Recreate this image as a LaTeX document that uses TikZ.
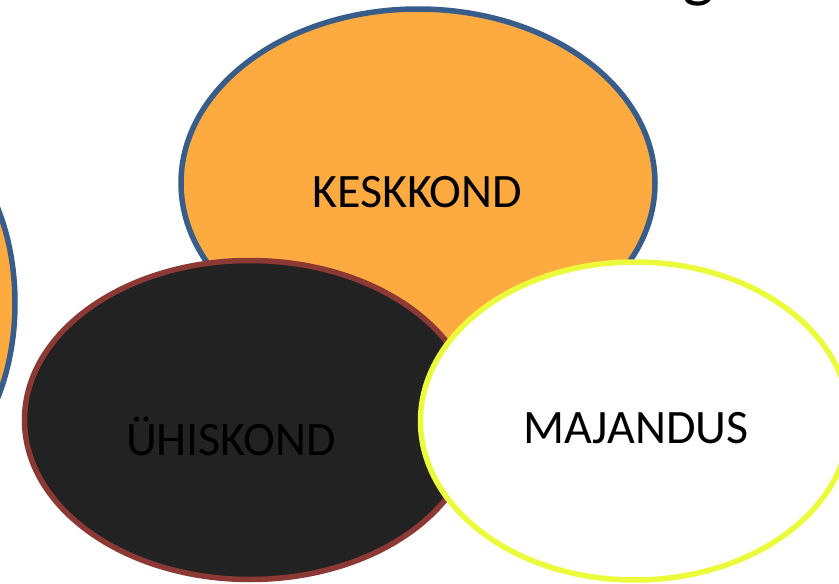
\documentclass[tikz,border=0pt]{standalone}
\usepackage{fontspec}
\setmainfont{Carlito}
\definecolor{orfill}{RGB}{253,170,64}
\definecolor{bluedge}{RGB}{56,93,138}
\definecolor{brownedge}{RGB}{140,56,52}
\definecolor{darkfill}{RGB}{34,34,34}
\definecolor{yeledge}{RGB}{236,250,60}
\tikzset{
  blob/.style={line width=5.5pt},
  lbl/.style={font=\fontsize{48}{52}\selectfont, inner sep=0pt}
}
\begin{document}
\begin{tikzpicture}[x=1pt,y=-1pt]
\useasboundingbox (0,0) rectangle (839,584);
\clip (0,0) rectangle (839,584);
\fill[white] (0,0) rectangle (839,584);
% partial title letter
\node[font=\fontsize{68}{72}\selectfont, anchor=base, inner sep=0pt] (title) at (698,-6) {g};
% left partial ellipse
\draw[blob, fill=orfill, draw=bluedge] (-92,303) ellipse [x radius=107, y radius=174];
% top ellipse
\draw[blob, fill=orfill, draw=bluedge] (418,183) ellipse [x radius=237, y radius=174];
\node[lbl] (kesk) at (417,192) {KESKKOND};
% dark ellipse
\draw[blob, fill=darkfill, draw=brownedge] (250,420) ellipse [x radius=225.5, y radius=159.5];
\node[lbl, text=black] (uhis) at (231,436) {ÜHISKOND};
% white ellipse
\draw[blob, fill=white, draw=yeledge] (635,421) ellipse [x radius=214.5, y radius=159];
\node[lbl] (maj) at (636,428) {MAJANDUS};
\end{tikzpicture}
\end{document}
